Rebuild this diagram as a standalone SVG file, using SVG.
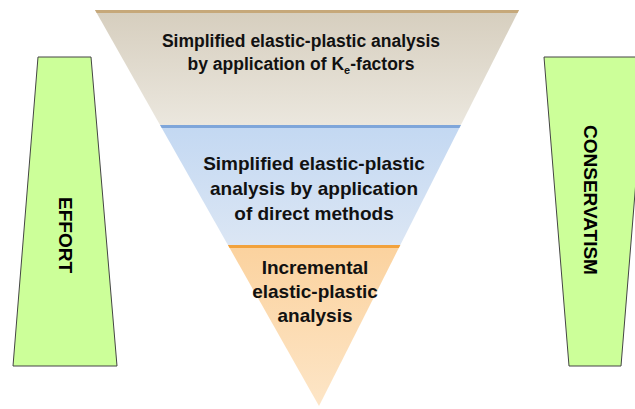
<svg xmlns="http://www.w3.org/2000/svg" width="635" height="409" viewBox="0 0 635 409">
  <defs>
    <linearGradient id="gTop" x1="0" y1="0" x2="0" y2="1">
      <stop offset="0" stop-color="#d6cebe"/>
      <stop offset="1" stop-color="#ebe7de"/>
    </linearGradient>
    <linearGradient id="gMid" x1="0" y1="0" x2="0" y2="1">
      <stop offset="0" stop-color="#c3d8f2"/>
      <stop offset="1" stop-color="#dbe6f4"/>
    </linearGradient>
    <linearGradient id="gBot" x1="0" y1="0" x2="0" y2="1">
      <stop offset="0" stop-color="#fbd29e"/>
      <stop offset="1" stop-color="#fde6c8"/>
    </linearGradient>
    <clipPath id="tri">
      <polygon points="95,10 519,10 319,406"/>
    </clipPath>
  </defs>
  <style>
    .lbl { font-family: "Liberation Sans", Arial, sans-serif; font-weight: bold; fill: #111; text-anchor: middle; }
    .t1 { font-size: 17.5px; }
    .t2 { font-size: 19px; }
    .side { fill: #ccff99; stroke: #444; stroke-width: 1; }
    .vert { font-family: "Liberation Sans", Arial, sans-serif; font-weight: bold; font-size: 19px; fill: #000; text-anchor: middle; }
  </style>

  <!-- inverted pyramid, three levels -->
  <g clip-path="url(#tri)">
    <g id="level-ke">
      <rect x="80" y="10" width="460" height="115" fill="url(#gTop)"/>
      <rect x="80" y="10" width="460" height="3" fill="#c6a87a"/>
    </g>
    <g id="level-direct">
      <rect x="80" y="125" width="460" height="120" fill="url(#gMid)"/>
      <rect x="80" y="125" width="460" height="3" fill="#7fa6da"/>
    </g>
    <g id="level-incremental">
      <rect x="80" y="245" width="460" height="165" fill="url(#gBot)"/>
      <rect x="80" y="245" width="460" height="3" fill="#f2a23c"/>
    </g>
  </g>

  <text class="lbl t1" x="301" y="47">Simplified elastic-plastic analysis</text>
  <text class="lbl t1" x="301" y="70">by application of K<tspan font-size="11" dy="4">e</tspan><tspan dy="-4">-factors</tspan></text>

  <text class="lbl t2" x="314" y="170">Simplified elastic-plastic</text>
  <text class="lbl t2" x="314" y="195">analysis by application</text>
  <text class="lbl t2" x="314" y="220">of direct methods</text>

  <text class="lbl t2" x="315" y="274">Incremental</text>
  <text class="lbl t2" x="315" y="298">elastic-plastic</text>
  <text class="lbl t2" x="315" y="322">analysis</text>

  <!-- side indicators -->
  <g id="effort">
    <polygon class="side" points="38,57 91,57 117,366 13,366"/>
    <text class="vert" transform="translate(59,235) rotate(90)">EFFORT</text>
  </g>
  <g id="conservatism">
    <polygon class="side" points="544,57 646,57 621,366 569,366"/>
    <text class="vert" transform="translate(584,200) rotate(90)">CONSERVATISM</text>
  </g>
</svg>
